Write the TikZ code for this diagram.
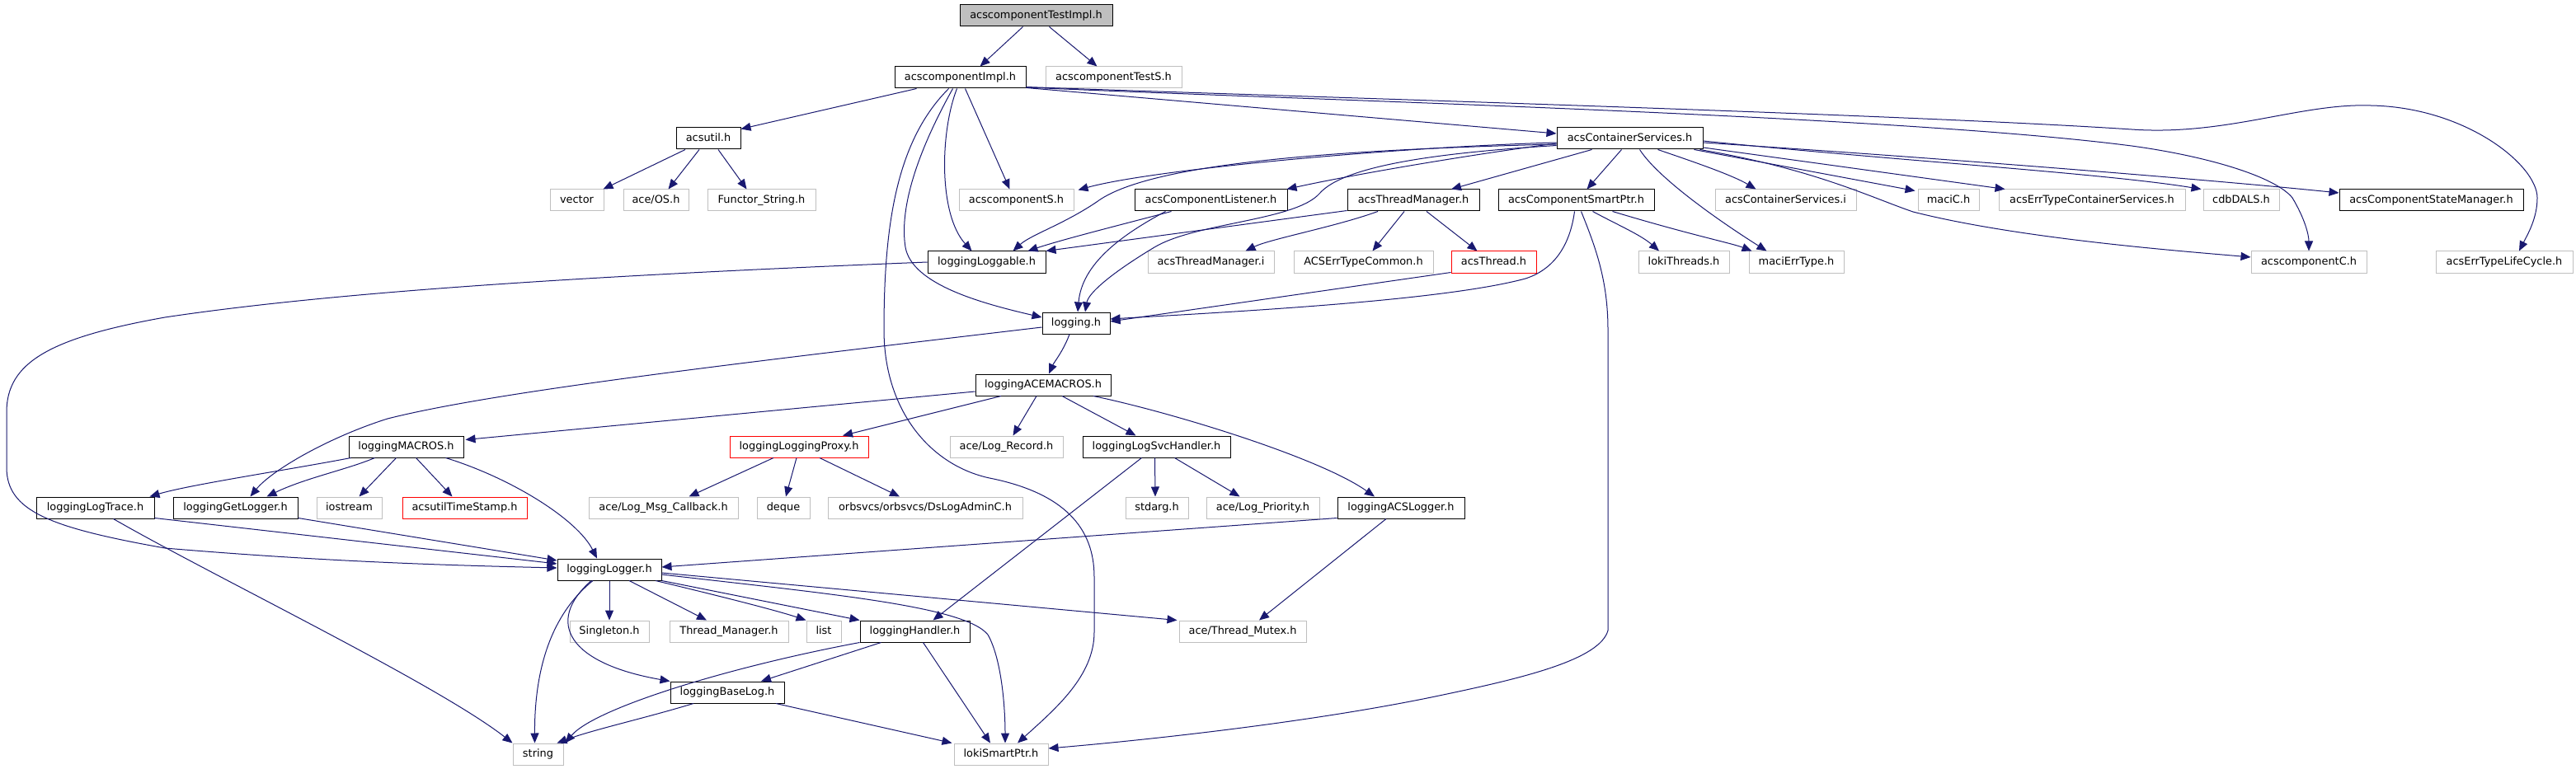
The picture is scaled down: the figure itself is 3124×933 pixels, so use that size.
\documentclass[tikz,border=0pt]{standalone}
\usepackage{fontspec}
\setmainfont{DejaVu Sans}
\usetikzlibrary{arrows.meta}
\definecolor{eblue}{HTML}{191970}
\definecolor{gborder}{HTML}{BFBFBF}
\definecolor{rborder}{HTML}{FF0000}
\begin{document}
\begin{tikzpicture}[x=1pt,y=-1pt,
  nb/.style={draw=black, line width=1pt, minimum height=26pt, inner sep=0pt,
    text height=9.6pt, text depth=2.6pt, font=\fontsize{12.9pt}{15pt}\selectfont},
  ng/.style={nb, draw=gborder},
  nr/.style={nb, draw=rborder},
  e/.style={draw=eblue, line width=1pt, -{Triangle[length=12pt,width=10pt]}, fill=none}]
\fill[white] (0,0) rectangle (3124,933);
\useasboundingbox (0,0) rectangle (3124,933);
% nodes
\node[nb, fill=gborder, minimum width=185pt] (root) at (1256.5,19) {acscomponentTestImpl.h};
\node[nb, minimum width=159pt] (impl) at (1164.5,94) {acscomponentImpl.h};
\node[ng, minimum width=165pt] (testS) at (1350.5,94) {acscomponentTestS.h};
\node[nb, minimum width=78pt] (acsutil) at (859,168) {acsutil.h};
\node[nb, minimum width=177pt] (cs) at (1976.5,168) {acsContainerServices.h};
\node[ng, minimum width=65pt] (vector) at (699.5,243) {vector};
\node[ng, minimum width=79pt] (aceos) at (795.5,243) {ace/OS.h};
\node[ng, minimum width=131pt] (functor) at (923.5,243) {Functor\_String.h};
\node[ng, minimum width=139pt] (compS) at (1232.5,243) {acscomponentS.h};
\node[nb, minimum width=185pt] (listener) at (1468.5,243) {acsComponentListener.h};
\node[nb, minimum width=160pt] (tmgr) at (1714,243) {acsThreadManager.h};
\node[nb, minimum width=189pt] (smart) at (1911.5,243) {acsComponentSmartPtr.h};
\node[ng, minimum width=171pt] (csi) at (2165.5,243) {acsContainerServices.i};
\node[ng, minimum width=74pt] (macic) at (2363,243) {maciC.h};
\node[ng, minimum width=226pt] (errcs) at (2537,243) {acsErrTypeContainerServices.h};
\node[ng, minimum width=92pt] (cdb) at (2718,243) {cdbDALS.h};
\node[nb, minimum width=223pt] (csm) at (2948.5,243) {acsComponentStateManager.h};
\node[nb, minimum width=143pt] (loggable) at (1196.5,318) {loggingLoggable.h};
\node[ng, minimum width=153pt] (tmi) at (1468.5,318) {acsThreadManager.i};
\node[ng, minimum width=169pt] (errcommon) at (1653.5,318) {ACSErrTypeCommon.h};
\node[nr, minimum width=103pt] (thread) at (1811.5,318) {acsThread.h};
\node[ng, minimum width=110pt] (lokithreads) at (2042,318) {lokiThreads.h};
\node[ng, minimum width=115pt] (macierr) at (2178.5,318) {maciErrType.h};
\node[ng, minimum width=140pt] (compC) at (2800,318) {acscomponentC.h};
\node[ng, minimum width=166pt] (errlc) at (3037,318) {acsErrTypeLifeCycle.h};
\node[nb, minimum width=82pt] (logging) at (1305,392) {logging.h};
\node[nb, minimum width=164pt] (acemacros) at (1265,467) {loggingACEMACROS.h};
\node[nb, minimum width=139pt] (macros) at (492.5,542) {loggingMACROS.h};
\node[nr, minimum width=168pt] (proxy) at (969,542) {loggingLoggingProxy.h};
\node[ng, minimum width=137pt] (logrecord) at (1220.5,542) {ace/Log\_Record.h};
\node[nb, minimum width=179pt] (svc) at (1402.5,542) {loggingLogSvcHandler.h};
\node[nb, minimum width=143pt] (logtrace) at (115.5,616) {loggingLogTrace.h};
\node[nb, minimum width=151pt] (getlogger) at (285.5,616) {loggingGetLogger.h};
\node[ng, minimum width=79pt] (iostream) at (423.5,616) {iostream};
\node[nr, minimum width=151pt] (timestamp) at (563.5,616) {acsutilTimeStamp.h};
\node[ng, minimum width=181pt] (msgcb) at (804.5,616) {ace/Log\_Msg\_Callback.h};
\node[ng, minimum width=64pt] (deque) at (950,616) {deque};
\node[ng, minimum width=236pt] (dslog) at (1122,616) {orbsvcs/orbsvcs/DsLogAdminC.h};
\node[ng, minimum width=76pt] (stdarg) at (1403,616) {stdarg.h};
\node[ng, minimum width=137pt] (priority) at (1531.5,616) {ace/Log\_Priority.h};
\node[nb, minimum width=154pt] (acslogger) at (1699,616) {loggingACSLogger.h};
\node[nb, minimum width=126pt] (logger) at (739,691) {loggingLogger.h};
\node[ng, minimum width=96pt] (singleton) at (739,766) {Singleton.h};
\node[ng, minimum width=144pt] (threadmgr) at (884,766) {Thread\_Manager.h};
\node[ng, minimum width=42pt] (list) at (999,766) {list};
\node[nb, minimum width=133pt] (handler) at (1109.5,766) {loggingHandler.h};
\node[ng, minimum width=154pt] (mutex) at (1507,766) {ace/Thread\_Mutex.h};
\node[nb, minimum width=138pt] (baselog) at (882,840) {loggingBaseLog.h};
\node[ng, minimum width=61pt] (string) at (652.5,915) {string};
\node[ng, minimum width=114pt] (lokismart) at (1214,915) {lokiSmartPtr.h};
% edges
\draw[e] ([xshift=-16pt]root.south) -- ([xshift=24pt]impl.north);
\draw[e] ([xshift=16pt]root.south) -- ([xshift=-20pt]testS.north);
\draw[e] ([xshift=-53pt]impl.south) -- ([yshift=-2pt]acsutil.north east);
\draw[e] ([xshift=6pt]impl.south) -- ([xshift=-8pt]compS.north);
\draw[e] ([xshift=-4pt]impl.south) .. controls (1140,160) and (1138,260) .. ([xshift=-18pt]loggable.north);
\draw[e] ([xshift=-9pt]impl.south) .. controls (1115,180) and (1090,250) .. (1098,300) .. controls (1106,345) and (1190,368) .. ([yshift=7pt]logging.west);
\draw[e] ([xshift=-14pt]impl.south) .. controls (1088,170) and (1072,270) .. (1072,400) .. controls (1072,500) and (1130,565) .. (1200,580) .. controls (1290,598) and (1327,640) .. (1327,700) -- (1327,767) .. controls (1327,820) and (1280,860) .. ([xshift=20pt]lokismart.north);
\draw[e] ([yshift=1pt]impl.south east) -- ([yshift=6pt]cs.west);
\draw[e] ([yshift=2pt]impl.south east) .. controls (1500,115) and (2300,138) .. (2585,157) .. controls (2700,165) and (2790,125) .. (2875,128) .. controls (2990,130) and (3077,200) .. (3077,240) .. controls (3077,265) and (3065,285) .. ([xshift=18pt]errlc.north);
\draw[e] ([yshift=1.5pt]impl.south east) .. controls (1600,122) and (2300,140) .. (2585,177) .. controls (2680,190) and (2760,215) .. (2780,240) .. controls (2795,265) and (2800,285) .. (compC.north);
\draw[e] ([xshift=-28pt]acsutil.south) -- ([xshift=-1pt]vector.north east);
\draw[e] ([xshift=-11pt]acsutil.south) -- ([xshift=15pt]aceos.north);
\draw[e] ([xshift=12pt]acsutil.south) -- ([xshift=-18pt]functor.north);
\draw[e] ([yshift=-5pt]cs.west) .. controls (1700,178) and (1400,205) .. ([xshift=5pt,yshift=-1pt]compS.north east);
\draw[e] ([yshift=-6pt]cs.west) .. controls (1780,188) and (1640,212) .. ([xshift=-1pt]listener.north east);
\draw[e] ([yshift=-7pt]cs.west) .. controls (1600,182) and (1390,200) .. (1330,245) .. controls (1290,272) and (1250,285) .. ([xshift=32pt]loggable.north);
\draw[e] ([yshift=-8.5pt]cs.west) .. controls (1750,185) and (1630,200) .. (1600,235) .. controls (1570,268) and (1450,270) .. (1400,300) .. controls (1350,330) and (1320,355) .. ([xshift=11pt]logging.north);
\draw[e] ([xshift=-46pt]cs.south) -- ([xshift=46pt]tmgr.north);
\draw[e] ([xshift=-10pt]cs.south) -- ([xshift=13pt]smart.north);
\draw[e] ([xshift=12pt]cs.south) .. controls (2010,215) and (2080,265) .. ([xshift=-36pt]macierr.north);
\draw[e] ([xshift=34pt]cs.south) .. controls (2050,195) and (2100,212) .. ([xshift=-36pt]csi.north);
\draw[e] ([xshift=78pt]cs.south) -- ([xshift=-3pt,yshift=-2pt]macic.north west);
\draw[e] ([yshift=-11pt]cs.east) -- ([xshift=8pt]errcs.north west);
\draw[e] ([yshift=-3pt]cs.east) .. controls (2300,195) and (2550,210) .. ([xshift=-2pt]cdb.north west);
\draw[e] ([yshift=-5pt]cs.east) .. controls (2400,195) and (2700,220) .. ([yshift=9pt]csm.west);
\draw[e] ([xshift=-4pt]cs.south east) .. controls (2200,205) and (2270,240) .. (2320,257) .. controls (2450,290) and (2650,305) .. ([yshift=6pt]compC.west);
\draw[e] ([xshift=-2pt]smart.south) .. controls (1905,290) and (1890,325) .. (1850,338) .. controls (1750,365) and (1500,378) .. ([yshift=5pt]logging.east);
\draw[e] ([xshift=6pt]smart.south) .. controls (1935,300) and (1950,340) .. (1950,400) -- (1950,765) .. controls (1940,800) and (1850,822) .. (1750,843) .. controls (1600,875) and (1400,897) .. ([yshift=7pt]lokismart.east);
\draw[e] ([xshift=20pt]smart.south) .. controls (1960,272) and (1990,285) .. ([xshift=-30pt]lokithreads.north);
\draw[e] ([xshift=44pt]smart.south) .. controls (2050,285) and (2100,295) .. ([xshift=-54pt]macierr.north);
\draw[e] ([yshift=1pt]tmgr.south west) -- (loggable.north east);
\draw[e] ([xshift=-43pt]tmgr.south) .. controls (1620,275) and (1540,290) .. ([xshift=42pt]tmi.north);
\draw[e] ([xshift=-11pt]tmgr.south) -- ([xshift=11pt]errcommon.north);
\draw[e] ([xshift=16pt]tmgr.south) -- ([xshift=-20pt]thread.north);
\draw[e] ([yshift=1pt]thread.south west) -- ([yshift=2pt]logging.east);
\draw[e] ([xshift=-48pt]listener.south) .. controls (1370,270) and (1290,290) .. ([xshift=50pt]loggable.north);
\draw[e] ([xshift=-55pt]listener.south) .. controls (1360,285) and (1312,320) .. ([xshift=2pt]logging.north);
\draw[e] (loggable.west) .. controls (700,335) and (400,355) .. (200,385) .. controls (60,410) and (8,440) .. (8,500) -- (8,567) .. controls (8,620) and (60,640) .. (200,665) .. controls (400,682) and (550,686) .. ([yshift=2pt]logger.west);
\draw[e] ([xshift=-8pt]logging.south) .. controls (1290,425) and (1278,440) .. ([xshift=7pt]acemacros.north);
\draw[e] ([yshift=-5pt]logging.west) .. controls (900,440) and (600,475) .. (470,508) .. controls (400,530) and (330,570) .. ([xshift=18pt]getlogger.north);
\draw[e] ([yshift=-8pt]acemacros.west) -- ([xshift=2pt,yshift=-5pt]macros.north east);
\draw[e] ([xshift=-51pt]acemacros.south) -- ([xshift=53pt]proxy.north);
\draw[e] ([xshift=-8pt]acemacros.south) -- ([xshift=8pt]logrecord.north);
\draw[e] ([xshift=23pt]acemacros.south) -- ([xshift=-25pt]svc.north);
\draw[e] ([xshift=61pt]acemacros.south) .. controls (1420,500) and (1600,555) .. ([xshift=-32pt]acslogger.north);
\draw[e] ([xshift=3pt]macros.south west) .. controls (350,570) and (230,588) .. ([xshift=-6pt]logtrace.north east);
\draw[e] ([xshift=-38pt]macros.south) .. controls (420,570) and (370,580) .. ([xshift=38pt]getlogger.north);
\draw[e] ([xshift=-12pt]macros.south) -- ([xshift=12pt]iostream.north);
\draw[e] ([xshift=12pt]macros.south) -- ([xshift=-15pt]timestamp.north);
\draw[e] ([xshift=48pt]macros.south) .. controls (620,580) and (700,630) .. ([xshift=-15pt]logger.north);
\draw[e] ([xshift=-31pt]proxy.south) -- ([xshift=31pt]msgcb.north);
\draw[e] ([xshift=-3pt]proxy.south) -- ([xshift=3pt]deque.north);
\draw[e] ([xshift=25pt]proxy.south) -- ([xshift=-31pt]dslog.north);
\draw[e] ([xshift=-2pt]svc.south) -- ([xshift=-2pt]stdarg.north);
\draw[e] ([xshift=22pt]svc.south) -- ([xshift=-28pt]priority.north);
\draw[e] ([xshift=-18pt]svc.south) -- ([xshift=22pt]handler.north);
\draw[e] ([yshift=1pt]acslogger.south west) -- ([yshift=3pt]logger.east);
\draw[e] ([xshift=-18pt]acslogger.south) -- ([xshift=20pt]mutex.north);
\draw[e] ([yshift=1pt]logtrace.south east) -- ([yshift=7pt]logger.west);
\draw[e] ([xshift=22pt]logtrace.south) .. controls (260,700) and (530,830) .. (string.north west);
\draw[e] ([yshift=1pt]getlogger.south east) -- ([yshift=11pt]logger.west);
\draw[e] (logger.south) -- (singleton.north);
\draw[e] ([xshift=-20pt]logger.south) .. controls (675,740) and (648,800) .. ([xshift=-4pt]string.north);
\draw[e] ([xshift=-22pt]logger.south) .. controls (660,755) and (690,805) .. (baselog.north west);
\draw[e] ([xshift=24pt]logger.south) -- ([xshift=-27pt]threadmgr.north);
\draw[e] ([xshift=56pt]logger.south) .. controls (860,720) and (940,740) .. (list.north west);
\draw[e] (logger.south east) -- (handler.north west);
\draw[e] ([yshift=-6pt]logger.east) .. controls (1000,720) and (1170,735) .. (1198,770) .. controls (1215,800) and (1219,860) .. ([xshift=5pt]lokismart.north);
\draw[e] ([yshift=-4pt]logger.east) -- ([xshift=-2pt]mutex.north west);
\draw[e] ([xshift=-41pt]handler.south) -- ([xshift=41pt]baselog.north);
\draw[e] (handler.south west) .. controls (880,810) and (720,860) .. ([xshift=2pt]string.north east);
\draw[e] ([xshift=10pt]handler.south) -- ([xshift=-13pt]lokismart.north);
\draw[e] ([xshift=-41pt]baselog.south) .. controls (780,872) and (720,885) .. ([xshift=-8pt]string.north east);
\draw[e] ([xshift=59pt]baselog.south) -- ([xshift=-2pt]lokismart.north west);
\end{tikzpicture}
\end{document}
